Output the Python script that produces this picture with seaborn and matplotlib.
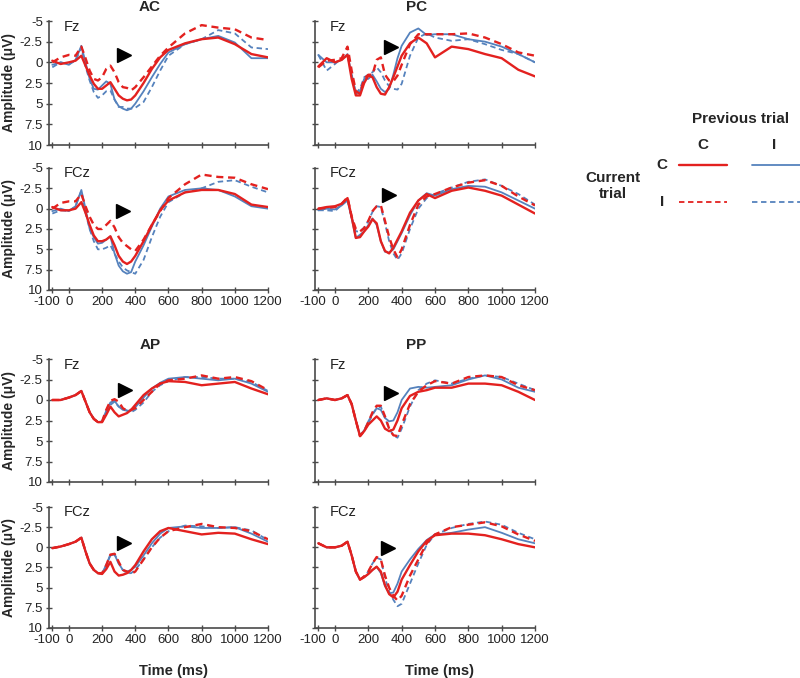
import matplotlib
matplotlib.use("Agg")
import matplotlib.pyplot as plt
import matplotlib.transforms as mtransforms
from matplotlib.lines import Line2D
import pandas as pd
import seaborn as sns

# ----------------------------------------------------------
# DATA  (ERP amplitude in microvolts)
# CC = current C / previous C, CI = current C / previous I,
# IC = current I / previous C, II = current I / previous I
# ----------------------------------------------------------

TIME = [-100, -50, 0, 40, 75, 100, 125, 150, 175, 200, 225, 250, 275, 300,
        325, 350, 375, 400, 450, 500, 550, 600, 700, 800, 900, 1000, 1100, 1200]

AC_FZ_CC = [-0.2, 0.2, 0.0, -0.2, -0.8, 0.4, 1.6, 2.6, 3.2, 3.2, 2.8, 2.4, 3.2, 4.0,
            4.4, 4.6, 4.5, 4.0, 2.5, 0.8, -0.6, -1.5, -2.3, -2.8, -3.0, -2.2, -1.0, -0.6]
AC_FZ_CI = [0.3, 0.0, 0.3, -0.3, -2.0, 0.0, 2.0, 3.2, 3.3, 2.8, 2.3, 2.6, 4.5, 5.3,
            5.6, 5.8, 5.6, 5.0, 3.5, 1.8, 0.2, -1.2, -2.2, -2.8, -3.2, -2.4, -0.5, -0.5]
AC_FZ_IC = [0.0, -0.6, -0.9, -0.8, -1.9, -0.5, 1.0, 2.0, 2.2, 1.8, 0.8, 0.4, 1.2, 2.4,
            3.0, 3.1, 3.4, 3.0, 1.8, 0.5, -0.8, -1.8, -3.5, -4.5, -4.2, -4.0, -3.0, -2.7]
AC_FZ_II = [0.6, 0.0, 0.2, -0.2, -1.8, 0.5, 2.2, 3.6, 4.3, 4.0, 3.5, 3.4, 4.5, 5.4,
            5.4, 5.6, 5.6, 5.5, 4.8, 3.0, 1.0, -0.8, -2.2, -2.8, -3.9, -3.5, -1.8, -1.6]

AC_FCZ_CC = [-0.2, 0.2, 0.2, 0.0, -0.8, 0.5, 2.0, 3.3, 4.0, 4.0, 3.8, 3.4, 4.5, 5.8,
             6.5, 6.8, 6.5, 5.8, 4.0, 2.0, 0.2, -1.0, -2.0, -2.3, -2.3, -1.8, -0.5, -0.2]
AC_FCZ_CI = [0.3, 0.0, 0.3, -0.3, -2.3, 0.0, 2.5, 3.5, 4.3, 4.2, 3.8, 3.4, 5.5, 7.0,
             7.7, 8.0, 7.8, 6.5, 4.5, 2.2, 0.0, -1.5, -2.3, -2.5, -2.3, -1.5, -0.3, 0.0]
AC_FCZ_IC = [0.0, -0.7, -0.9, -0.9, -1.8, -0.3, 1.0, 2.0, 2.5, 2.5, 2.0, 1.5, 2.3, 3.5,
             4.2, 4.6, 5.0, 5.2, 3.8, 2.0, 0.3, -1.3, -3.0, -4.2, -3.9, -3.8, -3.0, -2.4]
AC_FCZ_II = [0.6, 0.2, 0.3, -0.3, -2.2, 0.5, 2.5, 4.0, 5.0, 5.0, 4.8, 4.5, 5.5, 6.5,
             7.2, 7.6, 7.8, 8.0, 6.3, 3.5, 1.0, -0.8, -2.0, -2.5, -3.3, -3.5, -2.7, -2.0]

PC_FZ_CC = [0.5, -0.5, 0.0, -0.3, -0.9, 2.0, 4.0, 4.0, 2.5, 1.6, 1.8, 3.0, 3.8, 3.9,
            3.0, 1.8, 0.5, -0.8, -2.3, -3.0, -2.3, -0.6, -1.9, -1.6, -1.0, -0.5, 0.9, 1.7]
PC_FZ_CI = [-0.9, 0.0, 0.0, -0.3, -1.0, 1.5, 3.8, 3.5, 2.0, 2.0, 1.5, 2.3, 3.2, 3.6,
            3.2, 1.5, -0.5, -2.0, -3.6, -4.1, -3.3, -3.4, -3.4, -2.8, -2.5, -1.9, -1.0, 0.0]
PC_FZ_IC = [0.6, -0.2, -0.3, -0.5, -1.9, 1.0, 3.5, 3.8, 2.0, 1.5, 1.5, -0.3, -0.6, 1.5,
            2.2, 2.3, 1.6, 0.3, -2.2, -3.4, -3.4, -3.4, -3.4, -3.5, -3.0, -2.2, -1.2, -0.8]
PC_FZ_II = [-0.9, 1.0, 0.2, -0.5, -0.8, 1.5, 3.7, 3.2, 1.8, 1.5, 1.2, 0.6, 1.2, 2.2,
            2.9, 3.2, 3.3, 2.6, -0.8, -3.0, -3.5, -3.0, -2.6, -2.8, -2.2, -1.5, -1.0, 0.0]

PC_FCZ_CC = [0.0, -0.2, -0.3, -0.6, -1.3, 1.0, 3.6, 3.5, 2.8, 2.2, 1.3, 1.8, 4.0, 5.2,
             5.5, 4.8, 3.8, 2.8, 0.5, -1.0, -1.8, -1.3, -2.2, -2.6, -2.2, -1.6, -0.5, 0.6]
PC_FCZ_CI = [0.2, 0.0, 0.1, -0.4, -1.0, 1.2, 3.6, 3.2, 2.8, 2.0, 1.2, 2.0, 4.0, 5.3,
             5.4, 5.0, 4.0, 3.0, 0.8, -1.0, -1.9, -1.6, -2.4, -2.8, -2.7, -2.0, -1.0, 0.0]
PC_FCZ_IC = [0.0, -0.1, -0.2, -0.6, -1.4, 1.0, 2.5, 2.8, 2.4, 1.5, 0.3, -0.3, -0.4, 1.5,
             3.5, 5.0, 6.0, 5.0, 2.0, -0.5, -1.5, -1.8, -2.6, -3.2, -3.5, -2.8, -1.5, -0.4]
PC_FCZ_II = [0.2, 0.2, 0.3, -0.5, -1.1, 1.0, 2.8, 2.8, 2.3, 1.5, 0.4, -0.3, -0.2, 1.8,
             4.0, 5.5, 6.3, 5.5, 2.5, 0.0, -1.3, -1.8, -2.6, -3.3, -3.6, -2.8, -1.8, -0.5]

AP_FZ_CC = [0.0, 0.0, -0.3, -0.6, -1.1, 0.2, 1.5, 2.3, 2.7, 2.7, 1.8, 0.8, 1.5, 2.0,
            1.8, 1.6, 1.2, 0.6, -0.6, -1.4, -2.0, -2.3, -2.2, -1.8, -2.0, -2.2, -1.4, -0.7]
AP_FZ_CI = [0.0, 0.0, -0.3, -0.6, -1.1, 0.2, 1.5, 2.3, 2.7, 2.6, 1.3, 0.3, 0.1, 0.8,
            1.2, 1.3, 1.3, 0.9, -0.3, -1.4, -2.1, -2.6, -2.8, -2.6, -2.4, -2.6, -2.0, -1.0]
AP_FZ_IC = [0.0, 0.0, -0.3, -0.6, -1.1, 0.2, 1.5, 2.3, 2.7, 2.6, 1.2, 0.1, -0.1, 0.2,
            1.0, 1.3, 1.2, 1.0, 0.0, -1.0, -2.0, -2.4, -2.6, -3.0, -2.6, -2.8, -2.3, -1.2]
AP_FZ_II = [0.0, 0.0, -0.3, -0.6, -1.1, 0.2, 1.5, 2.3, 2.7, 2.7, 1.4, 0.6, 0.2, 0.8,
            1.0, 1.3, 1.5, 1.2, 0.3, -1.0, -1.8, -2.3, -2.8, -2.8, -2.6, -2.6, -2.2, -1.1]

AP_FCZ_CC = [0.1, -0.1, -0.4, -0.7, -1.2, 0.5, 2.0, 2.8, 3.2, 3.3, 2.7, 1.8, 3.0, 3.5,
             3.4, 3.2, 2.8, 2.2, 0.5, -1.0, -2.0, -2.4, -2.0, -1.6, -1.8, -1.7, -1.0, -0.4]
AP_FCZ_CI = [0.1, -0.1, -0.4, -0.7, -1.2, 0.5, 2.0, 2.8, 3.2, 3.2, 2.2, 1.0, 0.9, 2.0,
             2.8, 3.0, 2.8, 2.4, 1.0, -0.5, -1.7, -2.4, -2.6, -2.4, -2.4, -2.5, -1.7, -0.7]
AP_FCZ_IC = [0.1, -0.1, -0.4, -0.7, -1.2, 0.5, 2.0, 2.8, 3.2, 3.2, 2.2, 0.9, 0.8, 1.8,
             2.8, 3.0, 3.3, 3.0, 1.5, 0.0, -1.2, -2.0, -2.5, -2.9, -2.5, -2.4, -2.0, -1.0]
AP_FCZ_II = [0.1, -0.1, -0.4, -0.7, -1.2, 0.5, 2.0, 2.8, 3.2, 3.3, 2.2, 0.9, 0.8, 2.0,
             2.8, 3.2, 3.2, 2.8, 1.5, 0.0, -1.2, -2.0, -2.7, -2.6, -2.4, -2.5, -2.1, -0.9]

PP_FZ_CC = [0.0, -0.2, 0.0, -0.2, -0.6, 0.5, 2.5, 4.4, 3.8, 3.0, 2.5, 2.0, 2.5, 3.5,
            3.8, 3.6, 2.5, 1.0, -0.5, -1.0, -1.2, -1.5, -1.5, -2.0, -2.0, -1.8, -1.0, 0.0]
PP_FZ_CI = [0.0, -0.2, 0.0, -0.2, -0.6, 0.5, 2.5, 4.3, 3.7, 2.6, 1.7, 1.0, 1.2, 2.2,
            2.6, 2.5, 1.5, 0.0, -1.4, -1.6, -1.5, -1.6, -1.8, -2.5, -3.0, -2.5, -1.5, -1.0]
PP_FZ_IC = [0.0, -0.2, 0.0, -0.2, -0.6, 0.5, 2.5, 4.4, 3.8, 2.7, 1.5, 0.7, 0.7, 2.0,
            3.5, 4.3, 4.4, 3.0, 0.5, -1.0, -1.8, -2.3, -2.0, -2.8, -3.0, -2.8, -1.8, -1.2]
PP_FZ_II = [0.0, -0.2, 0.0, -0.2, -0.6, 0.5, 2.5, 4.4, 3.8, 2.8, 1.8, 1.0, 0.8, 2.2,
            3.5, 4.3, 4.6, 3.5, 0.8, -1.2, -2.0, -2.4, -2.0, -2.6, -3.0, -2.8, -2.0, -1.2]

PP_FCZ_CC = [-0.5, 0.0, 0.0, -0.2, -0.7, 1.0, 3.0, 4.0, 3.7, 3.3, 2.8, 2.4, 3.0, 4.7,
             5.8, 6.2, 5.5, 4.0, 2.2, 0.5, -0.8, -1.5, -1.7, -1.7, -1.5, -1.0, -0.4, 0.0]
PP_FCZ_CI = [-0.5, 0.0, 0.0, -0.2, -0.7, 1.0, 3.0, 4.0, 3.7, 3.3, 2.8, 2.4, 3.2, 4.8,
             5.7, 5.6, 4.5, 3.0, 1.5, 0.2, -0.9, -1.6, -1.8, -2.2, -2.5, -1.8, -1.0, -0.5]
PP_FCZ_IC = [-0.5, 0.0, 0.0, -0.2, -0.7, 1.0, 3.0, 4.0, 3.6, 3.0, 2.0, 1.2, 1.5, 3.5,
             5.0, 6.0, 6.6, 6.0, 3.5, 1.5, -0.5, -1.6, -2.5, -2.8, -3.1, -2.6, -1.6, -0.8]
PP_FCZ_II = [-0.5, 0.0, 0.0, -0.2, -0.7, 1.0, 3.0, 4.0, 3.6, 3.0, 2.0, 1.3, 1.5, 3.8,
             5.5, 6.5, 7.3, 7.0, 4.5, 2.0, -0.3, -1.6, -2.4, -2.9, -3.2, -2.8, -1.8, -1.0]

# arrowhead (time, amplitude) per panel
ARROW_T = [330, 325, 335, 323, 339, 335, 333, 320]
ARROW_V = [-0.9, 0.3, -1.9, -1.7, -1.2, -0.5, -0.85, 0.1]

X_TICKS = [-100, 0, 200, 400, 600, 800, 1000, 1200]
Y_TICKS = [-5, -2.5, 0, 2.5, 5, 7.5, 10]
Y_TICK_LABELS = ["-5", "-2.5", "0", "2.5", "5", "7.5", "10"]

RED = "#e3211f"
BLUE = "#5582bd"
AXIS_COL = "#4a4a4a"

# ----------------------------------------------------------
# LAYOUT  (pixel boxes of the 800 x 678 figure)
# ----------------------------------------------------------
W, H = 800, 678
COL_X = [(49, 268), (315, 535)]
ROW_Y = [(21, 145), (168, 290), (359, 482), (507, 628)]

PANELS = [
    # (row, col, title, channel, cc, ci, ic, ii)
    (0, 0, "AC", "Fz", AC_FZ_CC, AC_FZ_CI, AC_FZ_IC, AC_FZ_II),
    (1, 0, None, "FCz", AC_FCZ_CC, AC_FCZ_CI, AC_FCZ_IC, AC_FCZ_II),
    (0, 1, "PC", "Fz", PC_FZ_CC, PC_FZ_CI, PC_FZ_IC, PC_FZ_II),
    (1, 1, None, "FCz", PC_FCZ_CC, PC_FCZ_CI, PC_FCZ_IC, PC_FCZ_II),
    (2, 0, "AP", "Fz", AP_FZ_CC, AP_FZ_CI, AP_FZ_IC, AP_FZ_II),
    (3, 0, None, "FCz", AP_FCZ_CC, AP_FCZ_CI, AP_FCZ_IC, AP_FCZ_II),
    (2, 1, "PP", "Fz", PP_FZ_CC, PP_FZ_CI, PP_FZ_IC, PP_FZ_II),
    (3, 1, None, "FCz", PP_FCZ_CC, PP_FCZ_CI, PP_FCZ_IC, PP_FCZ_II),
]

sns.set_theme(style="ticks")
plt.rcParams['font.family'] = ['Liberation Sans', 'DejaVu Sans']
plt.rcParams['axes.unicode_minus'] = False


def long_frame(cc, ci, ic, ii):
    parts = []
    for vals, curr, prev in [(ii, "I", "I"), (ci, "C", "I"), (ic, "I", "C"), (cc, "C", "C")]:
        parts.append(pd.DataFrame({"time": TIME, "amp": vals, "prev": prev, "curr": curr}))
    return pd.concat(parts, ignore_index=True)


fig = plt.figure(figsize=(W / 100, H / 100), dpi=100)
shift_left = mtransforms.ScaledTranslation(-6 / 100, 0, fig.dpi_scale_trans)

for i, (r, c, title, chan, cc, ci, ic, ii) in enumerate(PANELS):
    x0, x1 = COL_X[c]
    y0, y1 = ROW_Y[r]
    ax = fig.add_axes([x0 / W, 1 - y1 / H, (x1 - x0) / W, (y1 - y0) / H])

    sns.lineplot(
        data=long_frame(cc, ci, ic, ii), x="time", y="amp",
        hue="prev", style="curr", size="prev",
        hue_order=["I", "C"], style_order=["I", "C"], size_order=["I", "C"],
        palette={"C": RED, "I": BLUE}, sizes={"C": 1.7, "I": 1.3},
        dashes={"C": "", "I": (3, 2)},
        estimator=None, legend=False, ax=ax,
    )

    # arrowhead marking the conflict-adaptation effect
    ax.plot(ARROW_T[i], ARROW_V[i], marker=">", markersize=10,
            color="black", linestyle="none")

    ax.set_xlim(-120, 1200)
    ax.set_ylim(10, -5)
    ax.set_xticks(X_TICKS)
    ax.set_yticks(Y_TICKS)
    ax.tick_params(direction="inout", length=4, width=1, colors=AXIS_COL,
                   labelcolor="#222222", labelsize=9.5, pad=2.5)
    for side in ["top", "right"]:
        ax.spines[side].set_visible(False)
    for side in ["left", "bottom"]:
        ax.spines[side].set_color(AXIS_COL)
        ax.spines[side].set_linewidth(1.2)

    if c == 0:
        ax.set_yticklabels(Y_TICK_LABELS)
        ax.set_ylabel("Amplitude (μV)", fontsize=10, fontweight="bold")
        ax.yaxis.set_label_coords(-0.15, 0.5)
    else:
        ax.set_yticklabels([])
        ax.set_ylabel("")

    if r in (1, 3):
        ax.set_xticklabels([str(t) for t in X_TICKS])
        first = ax.get_xticklabels()[0]
        first.set_transform(first.get_transform() + shift_left)
    else:
        ax.set_xticklabels([])
    if r == 3:
        ax.set_xlabel("Time (ms)", fontsize=10.5, fontweight="bold")
        ax.xaxis.set_label_coords(0.567, -0.3)
    else:
        ax.set_xlabel("")

    if title:
        ax.text(0.46, 1.11, title, transform=ax.transAxes, ha="center",
                va="center", fontsize=11, fontweight="bold")
    ax.text(0.066, 0.955, chan, transform=ax.transAxes, ha="left",
            va="center", fontsize=10.5, color="#222222")

# ----------------------------------------------------------
# 2 x 2 LEGEND (previous trial x current trial)
# ----------------------------------------------------------
def fx(px):
    return px / W


def fy(py):
    return 1 - py / H


lbl = dict(fontsize=11, fontweight="bold", ha="center", va="center")
fig.text(fx(741), fy(119), "Previous trial", **lbl)
fig.text(fx(703), fy(145), "C", **lbl)
fig.text(fx(774), fy(145), "I", **lbl)
fig.text(fx(613), fy(186), "Current\ntrial", linespacing=1.15, **lbl)
fig.text(fx(662), fy(165), "C", **lbl)
fig.text(fx(662), fy(202), "I", **lbl)

for (xa, xb), ry, col, ls, lw in [
    ((679, 727), 165, RED, "-", 1.7),
    ((752, 800), 165, BLUE, "-", 1.3),
    ((679, 727), 202, RED, (0, (3, 2)), 1.3),
    ((752, 800), 202, BLUE, (0, (3, 2)), 1.3),
]:
    fig.add_artist(Line2D([fx(xa), fx(xb)], [fy(ry), fy(ry)], color=col,
                          linestyle=ls, linewidth=lw, transform=fig.transFigure))

fig.savefig("out.png", dpi=100)
